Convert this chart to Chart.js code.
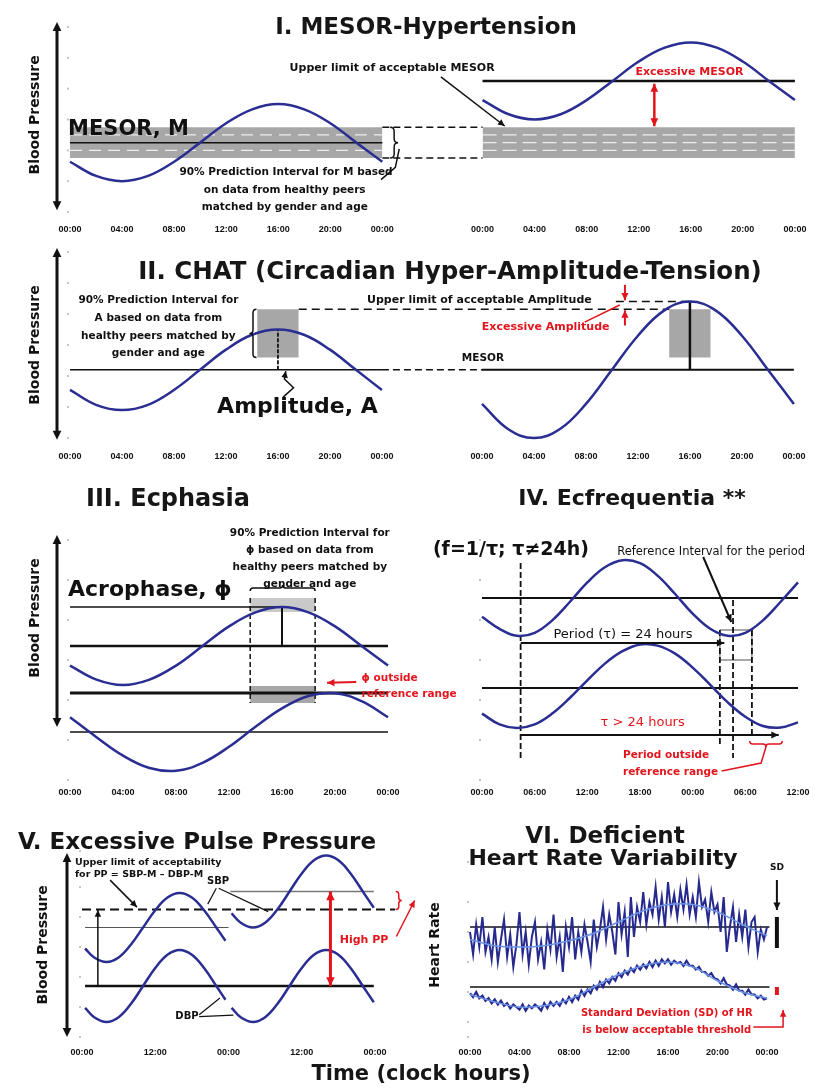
<!DOCTYPE html>
<html>
<head>
<meta charset="utf-8">
<title>Circadian blood pressure and heart rate abnormalities</title>
<script src="https://cdn.jsdelivr.net/npm/chart.js@4.4.1/dist/chart.umd.min.js"></script>
<style>
  body { margin: 0; background: #fff; }
  #page { position: relative; width: 819px; height: 1090px; overflow: hidden; font-family: 'DejaVu Sans', sans-serif; color: #161616; }
  #page canvas { position: absolute; }
  .ttl { position: absolute; font-weight: bold; white-space: nowrap; transform: translate(-50%, -50%); line-height: 1; }
</style>
</head>
<body>
<div id="page">
  <canvas id="c1" width="819" height="260" style="left:0;top:0"></canvas>
  <canvas id="c2" width="819" height="240" style="left:0;top:245px"></canvas>
  <canvas id="c3" width="480" height="340" style="left:0;top:475px"></canvas>
  <canvas id="c4" width="409" height="340" style="left:410px;top:475px"></canvas>
  <canvas id="c5" width="430" height="270" style="left:0;top:805px"></canvas>
  <canvas id="c6" width="409" height="270" style="left:410px;top:805px"></canvas>

  <div class="ttl" style="left:426px;top:26px;font-size:23px">I. MESOR-Hypertension</div>
  <div class="ttl" style="left:450px;top:271px;font-size:24.5px">II. CHAT (Circadian Hyper-Amplitude-Tension)</div>
  <div class="ttl" style="left:168px;top:498px;font-size:24px">III. Ecphasia</div>
  <div class="ttl" style="left:632px;top:498px;font-size:22px">IV. Ecfrequentia **</div>
  <div class="ttl" style="left:197px;top:841px;font-size:23px">V. Excessive Pulse Pressure</div>
  <div class="ttl" style="left:605px;top:835px;font-size:23px">VI. Deficient</div>
  <div class="ttl" style="left:603px;top:858px;font-size:22px">Heart Rate Variability</div>
  <div class="ttl" style="left:421px;top:1073px;font-size:21px">Time (clock hours)</div>
</div>

<script>
// colours and fonts
const INK = '#111';
const RED = '#e2151d';
const BLUE = '#2a2e92';
const LIGHT_BLUE = '#6b93e8';
const GREY = '#a7a7a7';
const LIGHT_GREY = '#c9c9c9';
const FAMILY = "'DejaVu Sans', 'Liberation Sans', sans-serif";
const BIG = 'bold 21px ' + FAMILY;
const SMALL = 'bold 11px ' + FAMILY;
const NOTE = 'bold 10.5px ' + FAMILY;
const TINY = 'bold 9.5px ' + FAMILY;
const PLAIN = '13px ' + FAMILY;
const AXIS_TITLE = 'bold 14px ' + FAMILY;

// ---- shared time axis (hours) ----
const HOURS = [0, 2, 4, 6, 8, 10, 12, 14, 16, 18, 20, 22, 24];
const TICKS_4H = [0, 4, 8, 12, 16, 20, 24];
const CLOCK_4H = ['00:00', '04:00', '08:00', '12:00', '16:00', '20:00', '00:00'];

// ---- I. MESOR-Hypertension (arbitrary BP units) ----
const P1_GAP = 31.7;                    // where the second day starts on the x axis
const P1_NORMAL = [16.3, 11.7, 10, 11.7, 16.3, 22.5, 28.8, 33.3, 35, 33.3, 28.8, 22.5, 16.3];
const P1_HIGH = [36.3, 31.7, 30, 31.7, 36.3, 42.5, 48.8, 53.3, 55, 53.3, 48.8, 42.5, 36.3];
const P1_MESOR = 22.5;
const P1_HIGH_MESOR = 42.5;
const P1_PI = [17.5, 27.5];             // 90% prediction interval for M
const P1_PI_MARKS = [20, 25];

// ---- II. CHAT ----
const P2_GAP = 31.7;
const P2_NORMAL = [15.5, 10.7, 9, 10.7, 15.5, 22, 28.5, 33.3, 35, 33.3, 28.5, 22, 15.5];
const P2_CHAT = [11, 2.9, 0, 2.9, 11, 22, 33, 41.1, 44, 41.1, 33, 22, 11];
const P2_MESOR = 22;
const P2_PI_A = [26, 41.5];             // 90% prediction interval for the amplitude
const P2_BOX_T = [14.4, 17.6];
const P2_ACROPHASE = 16;

// ---- III. Ecphasia ----
const P3_NORMAL = [28.6, 25.1, 23.75, 25.1, 28.6, 33.5, 38.4, 41.9, 43.25, 41.9, 38.4, 33.5, 28.6];
const P3_LATE = [15.7, 10.7, 6.1, 3.0, 2.3, 4.3, 8.3, 13.3, 17.9, 21.0, 21.7, 19.7, 15.7];
const P3_MESOR = [33.5, 12];
const P3_PEAK = [43.25, 21.75];
const P3_PI_PHI = [13.6, 18.5];         // hours
const P3_BOX_TOP = [42, 45.5];
const P3_BOX_BOTTOM = [19.25, 23.5];
const P3_ACROPHASE = 16;

// ---- IV. Ecfrequentia (36 h shown) ----
const P4_HOURS = [0, 2, 4, 6, 8, 10, 12, 14, 16, 18, 20, 22, 24, 26, 28, 30, 32, 34, 36];
const P4_TICKS = [0, 6, 12, 18, 24, 30, 36];
const P4_LABELS = ['00:00', '06:00', '12:00', '18:00', '00:00', '06:00', '12:00'];
const P4_24H = [40.8, 37.8, 36.05, 36.8, 39.9, 44.5, 49.4, 53.2, 54.95, 54.2, 51.1, 46.5, 41.6, 37.8, 36.05, 36.8, 39.9, 44.5, 49.4];
const P4_LONG = [16.6, 13.9, 13.0, 13.9, 16.6, 20.5, 24.9, 29.1, 32.2, 33.9, 33.6, 31.6, 28.1, 23.8, 19.4, 15.8, 13.5, 13.1, 14.4];
const P4_MESOR = [45.5, 23];
const P4_REF_T = [27.1, 30.75];
const P4_REF_LEVEL = [30, 37.5];

// ---- V. Excessive pulse pressure (48 h shown) ----
const P5_TICKS = [0, 12, 24, 36, 48];
const P5_LABELS = ['00:00', '12:00', '00:00', '12:00', '00:00'];
const P5_DAY1 = [0.5, 2, 4, 6, 8, 10, 12, 14, 16, 18, 20, 22, 23.5];
const P5_DAY2 = [24.5, 26, 28, 30, 32, 34, 36, 38, 40, 42, 44, 46, 47.8];
const P5_SBP_NORMAL = [29.5, 26.5, 25, 26.5, 30.75, 36.5, 42.25, 46.5, 48, 46.5, 42.25, 36.5, 32.1];
const P5_DBP_DAY1 = [9.7, 6.6, 5, 6.6, 11, 17, 23, 27.4, 29, 27.4, 23, 17, 12.4];
const P5_SBP_HIGH = [41.2, 38.1, 36.5, 38.1, 42.5, 48.5, 54.5, 58.9, 60.5, 58.9, 54.5, 48.5, 43.1];
const P5_DBP_DAY2 = [9.7, 6.6, 5, 6.6, 11, 17, 23, 27.4, 29, 27.4, 23, 17, 11.6];
const P5_DBP_MESOR = 17;
const P5_SBP_MESOR = [36.5, 48.5];
const P5_PP_LIMIT = 42.5;

// ---- VI. Heart rate (beats/min), one value every 15 min ----
const HR_TIMES = Array.from({ length: 97 }, (_, i) => i / 4);
const HR_VARIABLE = [
  72, 63, 75, 66, 78, 64, 70, 61, 74, 60, 69, 77, 62, 71, 58, 67,
  80, 63, 72, 59, 70, 76, 61, 68, 57, 73, 65, 79, 62, 70, 56, 74,
  66, 78, 61, 72, 64, 75, 68, 60, 77, 66, 73, 82, 69, 79, 72, 63,
  84, 71, 80, 62, 86, 70, 82, 76, 88, 75, 84, 79, 90, 77, 86, 74,
  92, 80, 87, 78, 89, 81, 91, 79, 86, 78, 92, 82, 85, 76, 88, 80,
  83, 72, 86, 64, 74, 82, 68, 79, 70, 81, 66, 76, 78, 64, 73, 69,
  74];
const HR_STEADY = [
  47.5, 46, 48, 45.5, 46.5, 44.5, 45.5, 43.5, 45, 43, 44.5, 42.5, 43.5, 41.5, 43, 42,
  41, 43, 40.5, 42.5, 41.5, 43, 42, 40.5, 43.5, 41.5, 44, 42.5, 44, 42.5, 45, 43.5,
  46, 44, 46.5, 45, 48.5, 46.5, 49, 47.5, 50.5, 49, 52, 50, 53, 51.5, 54, 52.5,
  55.5, 54, 56.5, 55, 57.5, 56, 58.5, 57, 59, 57.5, 60, 58, 60.5, 58.5, 61, 59.5,
  61, 59, 60.5, 59.5, 60, 58.5, 60.5, 58.5, 58.5, 57, 58, 56, 56, 54.5, 55.5, 53.5,
  53, 51.5, 53.5, 51, 50.5, 49, 51, 48.5, 48.5, 47, 49, 47, 47, 45.5, 46.5, 45,
  45.5];
const HR_VARIABLE_TREND = [69, 66.5, 66, 66.5, 68.5, 71.5, 76, 80.5, 83, 83, 80, 75, 70.5];
const HR_STEADY_TREND = [47, 44, 42, 42.5, 45, 50, 55, 58.5, 60, 58, 52.5, 48, 45.5];
const HR_MESOR = [74, 50];

// ---------- helpers ----------
function pts(xs, ys) { return xs.map((x, i) => ({ x: x, y: ys[i] })); }
function seg(x1, x2, y) { return [{ x: x1, y: y }, { x: x2, y: y }]; }
function vseg(x, y1, y2) { return [{ x: x, y: y1 }, { x: x, y: y2 }]; }
function shift(xs, d) { return xs.map(x => x + d); }

function wave(data, color, width, tension) {
  return { data: data, borderColor: color || BLUE, borderWidth: width || 2.5,
           tension: tension === undefined ? 0.4 : tension, fill: false };
}
function rule(data, width, dash, color) {
  return { data: data, borderColor: color || INK, borderWidth: width || 1.5,
           borderDash: dash || [], tension: 0, fill: false };
}
function band(top, bottom, color) {
  return [
    { data: top, borderColor: 'rgba(0,0,0,0)', borderWidth: 1, backgroundColor: color, fill: '+1', tension: 0 },
    { data: bottom, borderColor: 'rgba(0,0,0,0)', borderWidth: 1, fill: false, tension: 0 }
  ];
}

// ---------- annotations, all in data coordinates ----------
const NOTES = {
  c1: [
    { t: 'ylabel', s: 'Blood Pressure', dx: -35, y: 31.5 },
    { t: 'yarrow', dx: -13, y1: 61.6, y2: 0.6 },
    { t: 'text', x: -0.15, y: 26.6, s: 'MESOR, M', font: BIG, align: 'left' },
    { t: 'text', x: 24.75, y: 46.7, s: 'Upper limit of acceptable MESOR', font: SMALL },
    { t: 'line', pts: [[28.5, 43.8], [33.4, 27.9]], w: 1.5, head: 'end' },
    { t: 'text', x: 47.6, y: 45.4, s: 'Excessive MESOR', font: SMALL, color: RED },
    { t: 'line', pts: [[44.9, 41.6], [44.9, 27.8]], w: 2.5, color: RED, head: 'both' },
    { t: 'brace', x: 24.6, y1: 27.5, y2: 17.5, d: 8 },
    { t: 'line', pts: [[23.9, 10.5], [25.0, 14.5], [25.3, 20.5]], w: 1.5 },
    { t: 'text', x: 16.6, y: 13, s: '90% Prediction Interval for M based' },
    { t: 'text', x: 16.5, y: 7.1, s: 'on data from healthy peers' },
    { t: 'text', x: 16.5, y: 1.6, s: 'matched by gender and age' }
  ],
  c2: [
    { t: 'ylabel', s: 'Blood Pressure', dx: -35, y: 30 },
    { t: 'yarrow', dx: -13, y1: 61.3, y2: -0.6 },
    { t: 'text', x: 6.8, y: 44.5, s: '90% Prediction Interval for' },
    { t: 'text', x: 6.8, y: 38.7, s: 'A based on data from' },
    { t: 'text', x: 6.8, y: 32.9, s: 'healthy peers matched by' },
    { t: 'text', x: 6.8, y: 27.4, s: 'gender and age' },
    { t: 'brace', x: 14.35, y1: 41.5, y2: 26, d: -7 },
    { t: 'text', x: 31.5, y: 44.5, s: 'Upper limit of acceptable Amplitude', font: SMALL },
    { t: 'text', x: 30.15, y: 25.8, s: 'MESOR', align: 'left' },
    { t: 'text', x: 36.6, y: 35.8, s: 'Excessive Amplitude', font: SMALL, color: RED },
    { t: 'line', pts: [[39.6, 37.4], [42.3, 42.9]], w: 1.5, color: RED },
    { t: 'line', pts: [[42.7, 49.4], [42.7, 44.4]], w: 2, color: RED, head: 'end' },
    { t: 'line', pts: [[42.7, 36.3], [42.7, 41.2]], w: 2, color: RED, head: 'end' },
    { t: 'text', x: 17.5, y: 10, s: 'Amplitude, A', font: 'bold 22px ' + FAMILY },
    { t: 'line', pts: [[16.4, 13.2], [17.2, 16.2], [16.5, 19], [16.6, 21.6]], w: 1.5, head: 'end' }
  ],
  c3: [
    { t: 'ylabel', s: 'Blood Pressure', dx: -35, y: 40.5 },
    { t: 'yarrow', dx: -13, y1: 61.25, y2: 13.25 },
    { t: 'text', x: 18.1, y: 61.75, s: '90% Prediction Interval for' },
    { t: 'text', x: 18.1, y: 57.5, s: 'ϕ based on data from' },
    { t: 'text', x: 18.1, y: 53.25, s: 'healthy peers matched by' },
    { t: 'text', x: 18.1, y: 49, s: 'gender and age' },
    { t: 'hbrace', y: 47.25, x1: 13.6, x2: 18.5, d: 6 },
    { t: 'text', x: -0.15, y: 47.5, s: 'Acrophase, ϕ', font: 'bold 22px ' + FAMILY, align: 'left' },
    { t: 'line', pts: [[21.6, 24.5], [19.4, 24.3]], w: 2, color: RED, head: 'end' },
    { t: 'text', x: 22.0, y: 25.5, s: 'ϕ outside', color: RED, align: 'left' },
    { t: 'text', x: 22.0, y: 21.5, s: 'reference range', color: RED, align: 'left' }
  ],
  c4: [
    { t: 'text', x: 3.3, y: 57.5, s: '(f=1/τ; τ≠24h)', font: 'bold 19px ' + FAMILY },
    { t: 'text', x: 15.4, y: 57, s: 'Reference Interval for the period', font: '11.5px ' + FAMILY, align: 'left' },
    { t: 'line', pts: [[25.2, 55.75], [28.4, 39.5]], w: 2, head: 'end' },
    { t: 'line', pts: [[4.4, 34.25], [27.6, 34.25]], w: 2, head: 'end' },
    { t: 'text', x: 16.06, y: 36.25, s: 'Period (τ) = 24 hours', font: PLAIN },
    { t: 'line', pts: [[4.4, 11.25], [33.8, 11.25]], w: 2, head: 'end' },
    { t: 'text', x: 18.3, y: 14.25, s: 'τ > 24 hours', font: PLAIN, color: RED },
    { t: 'hbrace', y: 9.75, x1: 30.5, x2: 34.2, d: -6, color: RED },
    { t: 'line', pts: [[32.35, 8.25], [31.8, 4.25], [27.3, 2.25]], w: 1.5, color: RED },
    { t: 'text', x: 16.06, y: 6.25, s: 'Period outside', color: RED, align: 'left' },
    { t: 'text', x: 16.06, y: 2, s: 'reference range', color: RED, align: 'left' }
  ],
  c5: [
    { t: 'ylabel', s: 'Blood Pressure', dx: -39, y: 30.7 },
    { t: 'yarrow', dx: -15, y1: 61.3, y2: 0 },
    { t: 'text', x: -1.15, y: 58.3, s: 'Upper limit of acceptability', font: TINY, align: 'left' },
    { t: 'text', x: -1.15, y: 54.3, s: 'for PP = SBP-M – DBP-M', font: TINY, align: 'left' },
    { t: 'line', pts: [[4.6, 52.3], [9.0, 43.3]], w: 1.5, head: 'end' },
    { t: 'line', pts: [[2.6, 17], [2.6, 42.3]], w: 1.5, head: 'end' },
    { t: 'text', x: 22.3, y: 51.7, s: 'SBP', font: 'bold 10px ' + FAMILY },
    { t: 'line', pts: [[22.0, 49.6], [20.6, 44.3]], w: 1.2 },
    { t: 'line', pts: [[22.4, 49.6], [30.5, 41.8]], w: 1.2 },
    { t: 'text', x: 17.2, y: 6.7, s: 'DBP', font: 'bold 10px ' + FAMILY },
    { t: 'line', pts: [[19.2, 7.4], [22.6, 13]], w: 1.2 },
    { t: 'line', pts: [[19.2, 6.8], [24.8, 7.3]], w: 1.2 },
    { t: 'line', pts: [[40.7, 48.5], [40.7, 17]], w: 3, color: RED, head: 'both' },
    { t: 'text', x: 46.2, y: 32.3, s: 'High PP', font: SMALL, color: RED },
    { t: 'brace', x: 51.4, y1: 48.5, y2: 42.5, d: 6, color: RED },
    { t: 'line', pts: [[51.5, 33.5], [54.5, 45.5]], w: 1.5, color: RED, head: 'end' }
  ],
  c6: [
    { t: 'ylabel', s: 'Heart Rate', dx: -35, y: 66.8 },
    { t: 'text', x: 24.8, y: 97.6, s: 'SD', font: 'bold 9px ' + FAMILY },
    { t: 'line', pts: [[24.8, 92.8], [24.8, 80.8]], w: 2, head: 'end' },
    { t: 'line', pts: [[24.8, 78], [24.8, 65.6]], w: 4 },
    { t: 'line', pts: [[24.8, 50], [24.8, 46.8]], w: 4, color: RED },
    { t: 'text', x: 15.9, y: 39.6, s: 'Standard Deviation (SD) of HR', font: 'bold 10px ' + FAMILY, color: RED },
    { t: 'text', x: 15.9, y: 32.8, s: 'is below acceptable threshold', font: 'bold 10px ' + FAMILY, color: RED },
    { t: 'line', pts: [[22.9, 34], [25.3, 34], [25.3, 40.8]], w: 1.5, color: RED, head: 'end' }
  ]
};

function arrowHead(ctx, x1, y1, x2, y2, size) {
  const a = Math.atan2(y2 - y1, x2 - x1);
  ctx.beginPath();
  ctx.moveTo(x2, y2);
  ctx.lineTo(x2 - size * Math.cos(a - 0.45), y2 - size * Math.sin(a - 0.45));
  ctx.lineTo(x2 - size * Math.cos(a + 0.45), y2 - size * Math.sin(a + 0.45));
  ctx.closePath();
  ctx.fill();
}

// curly bracket from A to B, bulging d px along the unit normal (nx, ny)
function curly(ctx, ax, ay, bx, by, nx, ny, d) {
  const len = Math.hypot(bx - ax, by - ay);
  const ux = (bx - ax) / len, uy = (by - ay) / len;
  const h = d / 2, r = Math.min(h, len / 4);
  const mx = (ax + bx) / 2, my = (ay + by) / 2;
  ctx.beginPath();
  ctx.moveTo(ax, ay);
  ctx.quadraticCurveTo(ax + nx * h, ay + ny * h, ax + ux * r + nx * h, ay + uy * r + ny * h);
  ctx.lineTo(mx - ux * r + nx * h, my - uy * r + ny * h);
  ctx.quadraticCurveTo(mx + nx * h, my + ny * h, mx + nx * d, my + ny * d);
  ctx.quadraticCurveTo(mx + nx * h, my + ny * h, mx + ux * r + nx * h, my + uy * r + ny * h);
  ctx.lineTo(bx - ux * r + nx * h, by - uy * r + ny * h);
  ctx.quadraticCurveTo(bx + nx * h, by + ny * h, bx, by);
  ctx.stroke();
}

const notesPlugin = {
  id: 'notes',
  afterDatasetsDraw(chart) {
    const ctx = chart.ctx, area = chart.chartArea;
    const sx = chart.scales.x, sy = chart.scales.y;
    const X = v => sx.getPixelForValue(v), Y = v => sy.getPixelForValue(v);

    ctx.save();
    // faint tick dots along the left edge
    ctx.fillStyle = '#c4c4c4';
    sy.ticks.forEach(tk => ctx.fillRect(area.left - 3, Y(tk.value) - 1, 2, 2));
    ctx.restore();

    (NOTES[chart.canvas.id] || []).forEach(n => {
      const color = n.color || INK;
      ctx.save();
      ctx.strokeStyle = color;
      ctx.fillStyle = color;
      ctx.lineWidth = n.w || 1.5;
      ctx.lineCap = 'butt';
      if (n.t === 'text') {
        ctx.font = n.font || NOTE;
        ctx.textAlign = n.align || 'center';
        ctx.textBaseline = 'middle';
        ctx.fillText(n.s, X(n.x), Y(n.y));
      } else if (n.t === 'ylabel') {
        ctx.font = AXIS_TITLE;
        ctx.translate(area.left + n.dx, Y(n.y));
        ctx.rotate(-Math.PI / 2);
        ctx.textAlign = 'center';
        ctx.textBaseline = 'middle';
        ctx.fillText(n.s, 0, 0);
      } else if (n.t === 'yarrow') {
        const x = area.left + n.dx, y1 = Y(n.y1), y2 = Y(n.y2);
        ctx.lineWidth = 3;
        ctx.beginPath();
        ctx.moveTo(x, y1 + 6);
        ctx.lineTo(x, y2 - 6);
        ctx.stroke();
        arrowHead(ctx, x, y2, x, y1, 10);
        arrowHead(ctx, x, y1, x, y2, 10);
      } else if (n.t === 'line') {
        const p = n.pts.map(q => [X(q[0]), Y(q[1])]);
        ctx.beginPath();
        ctx.moveTo(p[0][0], p[0][1]);
        for (let i = 1; i < p.length; i++) ctx.lineTo(p[i][0], p[i][1]);
        ctx.stroke();
        const size = 5 + (n.w || 1.5) * 1.6;
        const k = p.length - 1;
        if (n.head === 'end' || n.head === 'both') arrowHead(ctx, p[k - 1][0], p[k - 1][1], p[k][0], p[k][1], size);
        if (n.head === 'start' || n.head === 'both') arrowHead(ctx, p[1][0], p[1][1], p[0][0], p[0][1], size);
      } else if (n.t === 'brace') {
        const x = X(n.x);
        curly(ctx, x, Y(n.y1), x, Y(n.y2), Math.sign(n.d), 0, Math.abs(n.d));
      } else if (n.t === 'hbrace') {
        const y = Y(n.y);
        curly(ctx, X(n.x1), y, X(n.x2), y, 0, n.d > 0 ? -1 : 1, Math.abs(n.d));
      }
      ctx.restore();
    });
  }
};

// ---------- chart factory ----------
const LABEL_H = 9 * 1.2;

function makeChart(id, cfg) {
  const canvas = document.getElementById(id);
  const g = cfg.geom;
  const tickPad = g.labelY - g.bottom - LABEL_H / 2;
  const padBottom = canvas.height - g.bottom - LABEL_H - 2 * tickPad;
  return new Chart(canvas, {
    type: 'line',
    data: { datasets: cfg.datasets },
    options: {
      responsive: false,
      animation: false,
      devicePixelRatio: 1,
      layout: { padding: { left: g.left, right: canvas.width - g.right, top: g.top, bottom: padBottom } },
      plugins: { legend: { display: false }, tooltip: { enabled: false } },
      elements: { point: { radius: 0 } },
      datasets: { line: { clip: false, pointRadius: 0 } },
      scales: {
        x: {
          type: 'linear', min: cfg.xMin, max: cfg.xMax,
          afterBuildTicks: ax => { ax.ticks = cfg.ticks.map(v => ({ value: v })); },
          ticks: {
            autoSkip: false, maxRotation: 0, padding: tickPad, color: INK,
            font: { family: 'Liberation Sans', size: 9, weight: 'bold', lineHeight: 1.2 },
            callback: (v, i) => cfg.tickLabels[i]
          },
          grid: { display: false, drawTicks: false },
          border: { display: false }
        },
        y: { display: false, min: cfg.yMin, max: cfg.yMax, ticks: { stepSize: cfg.yStep } }
      }
    },
    plugins: [notesPlugin]
  });
}

// ---------- I ----------
makeChart('c1', {
  geom: { left: 70, right: 803, top: 27, bottom: 212, labelY: 230 },
  xMin: 0, xMax: P1_GAP + 24, yMin: 0, yMax: 60, yStep: 10,
  ticks: TICKS_4H.concat(shift(TICKS_4H, P1_GAP)),
  tickLabels: CLOCK_4H.concat(CLOCK_4H),
  datasets: [
    wave(pts(HOURS, P1_NORMAL)),
    wave(pts(shift(HOURS, P1_GAP), P1_HIGH)),
    rule(seg(0, 24, P1_MESOR), 1.5),
    rule(seg(P1_GAP, P1_GAP + 24, P1_HIGH_MESOR), 2.5),
    rule(seg(24, P1_GAP, P1_PI[1]), 1.5, [7, 4]),
    rule(seg(24, P1_GAP, P1_PI[0]), 1.5, [7, 4]),
    rule(seg(0, 24, P1_PI_MARKS[0]), 1.2, [12, 7], '#eeeeee'),
    rule(seg(0, 24, P1_PI_MARKS[1]), 1.2, [12, 7], '#eeeeee'),
    rule(seg(P1_GAP, P1_GAP + 24, P1_PI_MARKS[0]), 1.2, [14, 6], '#eeeeee'),
    rule(seg(P1_GAP, P1_GAP + 24, P1_MESOR), 1.2, [14, 6], '#eeeeee'),
    rule(seg(P1_GAP, P1_GAP + 24, P1_PI_MARKS[1]), 1.2, [14, 6], '#eeeeee'),
    ...band(seg(0, 24, P1_PI[1]), seg(0, 24, P1_PI[0]), GREY),
    ...band(seg(P1_GAP, P1_GAP + 24, P1_PI[1]), seg(P1_GAP, P1_GAP + 24, P1_PI[0]), GREY)
  ]
});

// ---------- II ----------
makeChart('c2', {
  geom: { left: 70, right: 803, top: 7, bottom: 193, labelY: 212 },
  xMin: 0, xMax: P2_GAP + 24, yMin: 0, yMax: 60, yStep: 10,
  ticks: TICKS_4H.concat(shift(TICKS_4H, P2_GAP)),
  tickLabels: CLOCK_4H.concat(CLOCK_4H),
  datasets: [
    wave(pts(HOURS, P2_NORMAL)),
    wave(pts(shift(HOURS, P2_GAP), P2_CHAT)),
    rule(vseg(P2_ACROPHASE, P2_MESOR, P2_NORMAL[8]), 1.8, [4, 1.5]),
    rule(vseg(P2_GAP + P2_ACROPHASE, P2_MESOR, P2_CHAT[8]), 2.5),
    rule(seg(0, 24, P2_MESOR), 1.5),
    rule(seg(P2_GAP, P2_GAP + 24, P2_MESOR), 2),
    rule(seg(24, P2_GAP, P2_MESOR), 1.5, [7, 4]),
    rule(seg(P2_BOX_T[1], P2_GAP + P2_BOX_T[0], P2_PI_A[1]), 1.5, [8, 5]),
    rule(seg(42, P2_GAP + P2_ACROPHASE, P2_CHAT[8]), 1.5, [8, 5]),
    ...band(seg(P2_BOX_T[0], P2_BOX_T[1], P2_PI_A[1]), seg(P2_BOX_T[0], P2_BOX_T[1], P2_PI_A[0]), GREY),
    ...band(seg(P2_GAP + P2_BOX_T[0], P2_GAP + P2_BOX_T[1], P2_PI_A[1]),
            seg(P2_GAP + P2_BOX_T[0], P2_GAP + P2_BOX_T[1], P2_PI_A[0]), GREY)
  ]
});

// ---------- III ----------
makeChart('c3', {
  geom: { left: 70, right: 388, top: 65, bottom: 305, labelY: 318 },
  xMin: 0, xMax: 24, yMin: 0, yMax: 60, yStep: 10,
  ticks: TICKS_4H, tickLabels: CLOCK_4H,
  datasets: [
    wave(pts(HOURS, P3_NORMAL)),
    wave(pts(HOURS, P3_LATE)),
    rule(vseg(P3_ACROPHASE, P3_MESOR[0], P3_PEAK[0]), 2),
    rule(seg(0, P3_ACROPHASE, P3_PEAK[0]), 1.5),
    rule(seg(0, 24, P3_MESOR[0]), 2.5),
    rule(seg(0, 24, P3_PEAK[1]), 3),
    rule(seg(0, 24, P3_MESOR[1]), 1.5),
    rule(vseg(P3_PI_PHI[0], P3_BOX_TOP[1], P3_BOX_BOTTOM[0]), 1.5, [5, 3]),
    rule(vseg(P3_PI_PHI[1], P3_BOX_TOP[1], P3_BOX_BOTTOM[0]), 1.5, [5, 3]),
    ...band(seg(P3_PI_PHI[0], P3_PI_PHI[1], P3_BOX_TOP[1]), seg(P3_PI_PHI[0], P3_PI_PHI[1], P3_BOX_TOP[0]), LIGHT_GREY),
    ...band(seg(P3_PI_PHI[0], P3_PI_PHI[1], P3_BOX_BOTTOM[1]), seg(P3_PI_PHI[0], P3_PI_PHI[1], P3_BOX_BOTTOM[0]), GREY)
  ]
});

// ---------- IV ----------
makeChart('c4', {
  geom: { left: 72, right: 388, top: 65, bottom: 305, labelY: 318 },
  xMin: 0, xMax: 36, yMin: 0, yMax: 60, yStep: 10,
  ticks: P4_TICKS, tickLabels: P4_LABELS,
  datasets: [
    wave(pts(P4_HOURS, P4_24H)),
    wave(pts(P4_HOURS, P4_LONG)),
    rule(seg(0, 36, P4_MESOR[0]), 2),
    rule(seg(0, 36, P4_MESOR[1]), 2),
    rule(vseg(4.4, 54.25, 5), 1.8, [6, 3]),
    rule(vseg(P4_REF_T[0], P4_REF_LEVEL[1], 8.25), 1.8, [6, 3]),
    rule(vseg(28.6, 45, 5.5), 1.8, [6, 3]),
    rule(vseg(P4_REF_T[1], P4_REF_LEVEL[1], 10.5), 1.8, [6, 3]),
    rule([
      { x: P4_REF_T[0], y: P4_REF_LEVEL[1] }, { x: P4_REF_T[1], y: P4_REF_LEVEL[1] },
      { x: P4_REF_T[1], y: P4_REF_LEVEL[0] }, { x: P4_REF_T[0], y: P4_REF_LEVEL[0] },
      { x: P4_REF_T[0], y: P4_REF_LEVEL[1] }
    ], 1.5, [], '#8c8c8c')
  ]
});

// ---------- V ----------
makeChart('c5', {
  geom: { left: 82, right: 375, top: 46, bottom: 232, labelY: 248 },
  xMin: 0, xMax: 48, yMin: 0, yMax: 62, yStep: 10,
  ticks: P5_TICKS, tickLabels: P5_LABELS,
  datasets: [
    wave(pts(P5_DAY1, P5_SBP_NORMAL)),
    wave(pts(P5_DAY2, P5_SBP_HIGH)),
    wave(pts(P5_DAY1, P5_DBP_DAY1)),
    wave(pts(P5_DAY2, P5_DBP_DAY2)),
    rule(seg(0, 51.3, P5_PP_LIMIT), 2, [9, 5]),
    rule(seg(0.5, 47.8, P5_DBP_MESOR), 2.5),
    rule(seg(0.5, 24, P5_SBP_MESOR[0]), 1.2, [], '#555'),
    rule(seg(24.3, 47.8, P5_SBP_MESOR[1]), 1.5, [], '#777')
  ]
});

// ---------- VI ----------
makeChart('c6', {
  geom: { left: 60, right: 357, top: 57, bottom: 232, labelY: 248 },
  xMin: 0, xMax: 24, yMin: 30, yMax: 100, yStep: 12,
  ticks: TICKS_4H, tickLabels: CLOCK_4H,
  datasets: [
    wave(pts(HOURS, HR_VARIABLE_TREND), LIGHT_BLUE, 1.5),
    wave(pts(HOURS, HR_STEADY_TREND), LIGHT_BLUE, 1.5),
    wave(pts(HR_TIMES, HR_VARIABLE), '#262a8e', 2, 0),
    wave(pts(HR_TIMES, HR_STEADY), '#262a8e', 2.2, 0),
    rule(seg(0, 24.2, HR_MESOR[0]), 1.5),
    rule(seg(0, 24.2, HR_MESOR[1]), 1.5)
  ]
});
</script>
</body>
</html>
